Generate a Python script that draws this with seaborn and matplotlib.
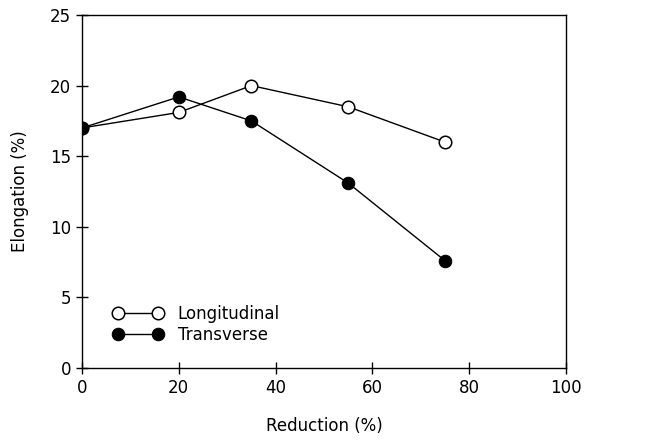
import matplotlib
matplotlib.use("Agg")
import matplotlib.pyplot as plt
import seaborn as sns
import pandas as pd

reduction = [0, 20, 35, 55, 75]
longitudinal = [17.0, 18.1, 20.0, 18.5, 16.0]
transverse = [17.0, 19.2, 17.5, 13.1, 7.6]

sns.set_theme(style="white")
plt.rcParams['font.family'] = ['DejaVu Sans']
plt.rcParams['text.color'] = 'black'
plt.rcParams['axes.labelcolor'] = 'black'

df = pd.DataFrame({
    "Reduction": reduction * 2,
    "Elongation": longitudinal + transverse,
    "Series": ["Longitudinal"] * len(reduction) + ["Transverse"] * len(reduction),
})

fig = plt.figure(figsize=(6.48, 4.4), dpi=100)
ax = fig.add_axes([82 / 648, 1 - 368 / 440, (566 - 82) / 648, (368 - 15) / 440])

sub_l = df[df.Series == "Longitudinal"]
sub_t = df[df.Series == "Transverse"]
sns.lineplot(data=sub_l, x="Reduction", y="Elongation", ax=ax, color="black",
             lw=1.0, marker="o", markersize=9, markerfacecolor="white",
             markeredgecolor="black", markeredgewidth=1.1, label="Longitudinal", zorder=3)
sns.lineplot(data=sub_t, x="Reduction", y="Elongation", ax=ax, color="black",
             lw=1.0, marker="o", markersize=9, markerfacecolor="black",
             markeredgecolor="black", label="Transverse", zorder=4)

ax.set_xlim(0, 100)
ax.set_ylim(0, 25)
ax.set_xticks([0, 20, 40, 60, 80, 100])
ax.set_yticks([0, 5, 10, 15, 20, 25])
ax.tick_params(direction="inout", length=8, width=1, colors="black",
               labelsize=12, bottom=True, left=True, top=False, right=False, pad=4)
for s in ax.spines.values():
    s.set_color("black")
    s.set_linewidth(1.0)
ax.set_xlabel("Reduction (%)", fontsize=12, labelpad=14)
ax.set_ylabel("Elongation (%)", fontsize=12, labelpad=15)

handles, labels = ax.get_legend_handles_labels()
order = [labels.index("Longitudinal"), labels.index("Transverse")]
leg = ax.legend([handles[i] for i in order], [labels[i] for i in order],
                loc="lower left", bbox_to_anchor=(0.05, 0.05), frameon=False,
                numpoints=2, handlelength=3.0, fontsize=12, labelspacing=0.15,
                handletextpad=0.9, borderaxespad=0)
for t in leg.get_texts():
    t.set_color("black")

fig.savefig("out.png", dpi=100)
